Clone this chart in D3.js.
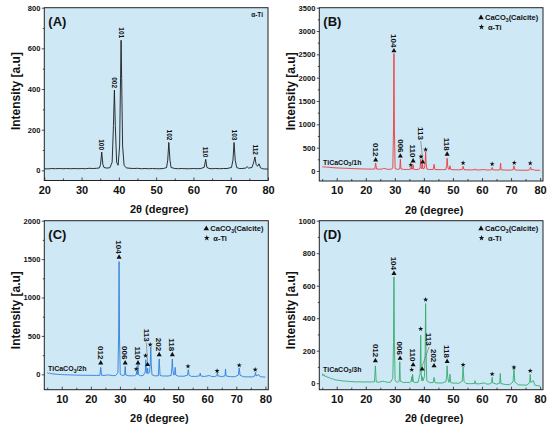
<!DOCTYPE html>
<html>
<head>
<meta charset="utf-8">
<script src="https://cdn.jsdelivr.net/npm/d3@7"></script>
<style>
  body { margin: 0; background: #fff; }
  svg, svg text { font-family: "Liberation Sans", Arial, sans-serif; }
  svg { display: block; }
</style>
</head>
<body>
<div id="chart"></div>
<script>
// ---- data: [2theta, intensity] ----
const tiA = [
  [20,8],[21,7],[22,9],[23,8],[24,9],[25,8],[26,9],[27,8],[28,9],[29,8],[30,9],[31,8],[32,10],[33,9],[34,10],
  [34.8,12],[35.1,30],[35.4,90],[35.7,30],[36.0,14],[36.8,11],[37.6,13],[38.2,40],[38.55,220],[38.8,395],
  [39.05,220],[39.4,40],[39.8,25],[40.2,120],[40.45,450],[40.6,640],[40.75,450],[41.0,120],[41.4,25],[42,12],
  [43,10],[44,9],[45,10],[46,8],[47,9],[48,8],[49,9],[50,8],[51,8],[52,9],[52.8,14],[53.1,50],[53.4,137],
  [53.7,50],[54.0,14],[55,9],[56,8],[57,9],[58,8],[59,8],[60,9],[61,8],[62,9],[62.9,15],[63.3,54],[63.6,15],
  [64.2,9],[65,8],[66,9],[67,8],[68,9],[69,9],[70.2,14],[70.6,50],[70.9,137],[71.2,50],[71.6,14],[72.3,9],
  [73,9],[74,11],[74.4,18],[74.8,11],[75.7,14],[76.1,35],[76.5,66],[76.8,30],[77.2,20],[77.6,32],[78.0,12],
  [78.5,8],[79,7],[80,6]
];
const tiB = [
  [5,92],[5.5,84],[6,88],[6.5,80],[7,82],[8,74],[9,70],[10,66],[11,63],[12,60],[13,57],[14,55],[15,52],[16,50],
  [17,47],[18,46],[19,43],[20,42],[21,40],[22,41],[23.1,40],[23.4,170],[23.7,42],[24.5,38],[25.5,40],[26.2,55],
  [26.8,48],[27.5,36],[28.5,35],[29.3,60],[29.55,900],[29.7,2520],[29.85,900],[30.1,50],[31,34],[31.7,45],
  [31.9,251],[32.1,45],[33,33],[34,32],[35,32],[35.4,40],[35.6,92],[35.8,38],[36.1,40],[36.3,129],[36.5,38],
  [37,31],[38,31],[38.7,60],[38.9,251],[39.1,60],[39.3,45],[39.5,150],[39.7,45],[40.2,60],[40.45,180],
  [40.6,414],[40.75,180],[41.0,40],[42,30],[43.2,32],[43.5,143],[43.8,32],[44.5,29],[45.5,28],[46.5,28],
  [47.6,32],[47.85,120],[48.0,272],[48.2,100],[48.5,35],[48.8,40],[49.0,110],[49.2,35],[50,26],[51,26],[52,25],
  [53.2,30],[53.5,100],[53.8,30],[54.5,24],[56,23],[57.4,25],[57.6,45],[57.8,24],[59,22],[60.8,30],[61.5,22],
  [62.5,21],[63.3,25],[63.5,75],[63.7,25],[65,20],[66.2,25],[66.4,170],[66.6,25],[68,19],[69.5,18],[70.7,25],
  [71.0,110],[71.3,25],[72.5,17],[74,16],[75.5,16],[76.4,25],[76.7,85],[77.0,25],[77.6,35],[78,17],[79,15],[80,14]
];
const tiC = [
  [5,22],[5.4,12],[5.8,18],[6.3,8],[7,6],[8,2],[9,-1],[10,-3],[11,-5],[12,-6],[13,-8],[14,-9],[15,-10],[16,-11],
  [17,-12],[18,-12],[19,-13],[20,-13],[21,-14],[22,-14],[23.1,-13],[23.4,91],[23.7,-12],[24.5,-15],[25.8,-8],
  [26.5,-10],[27.5,-16],[28.5,-16],[29.3,20],[29.55,500],[29.7,1468],[29.85,500],[30.1,0],[31,-17],[31.6,-8],
  [31.8,104],[32.0,-8],[33,-18],[34,-19],[35,-18],[35.6,-5],[35.8,45],[36.0,-2],[36.2,126],[36.4,-5],[37,-18],
  [38,-15],[38.7,30],[38.9,191],[39.1,30],[39.3,10],[39.5,80],[39.7,10],[40.2,30],[40.45,150],[40.6,356],
  [40.75,150],[41.0,-5],[42,-20],[43.2,-18],[43.5,200],[43.8,-15],[44.5,-21],[45.5,-22],[46.5,-22],[47.6,-15],
  [47.85,80],[48.0,200],[48.2,60],[48.5,-10],[48.8,0],[49.0,91],[49.2,-10],[50,-24],[51,-24],[52,-25],
  [53.2,-12],[53.5,61],[53.8,-12],[54.5,-26],[56,-27],[57.4,-20],[57.6,16],[57.8,-22],[59,-28],[60.8,-15],
  [61.5,-28],[62.5,-29],[63.3,-20],[63.5,25],[63.7,-20],[65,-30],[66.1,-20],[66.3,70],[66.5,-22],[68,-30],
  [69.5,-31],[70.7,-10],[71.0,83],[71.3,-12],[72.5,-32],[74,-33],[75.5,-33],[76.4,-20],[76.6,25],[76.8,-20],
  [77.7,-5],[78.2,-30],[79,-34],[80,-36]
];
const tiD = [
  [5,58],[5.3,46],[5.6,54],[6,40],[6.5,44],[7,33],[7.5,36],[8,27],[8.5,28],[9,23],[10,19],[11,17],[12,14],
  [13,13],[14,11],[15,10],[16,9],[17,8],[18,9],[19,7],[20,8],[21,7],[22,8],[23.0,8],[23.3,107],[23.6,8],
  [24.5,6],[25.8,12],[26.5,10],[27.5,5],[28.5,6],[29.3,30],[29.55,250],[29.7,654],[29.85,250],[30.1,15],[31,5],
  [31.5,12],[31.7,132],[31.9,12],[33,4],[34,5],[35,4],[35.6,10],[35.8,40],[36.0,10],[36.1,56],[36.4,8],[37,4],
  [38,6],[38.7,60],[38.9,295],[39.1,60],[39.3,15],[39.5,40],[39.7,15],[40.2,40],[40.45,200],[40.6,490],
  [40.75,200],[41.0,15],[42,3],[43.2,4],[43.5,35],[43.8,4],[44.5,2],[45.5,1],[46.5,2],[47.6,10],[47.85,50],
  [48.0,107],[48.2,40],[48.5,6],[48.8,10],[49.0,55],[49.2,5],[50,0],[51,1],[52,-1],[53.2,12],[53.5,101],
  [53.8,12],[54.5,-2],[56,-3],[57.4,-2],[57.6,15],[57.8,-3],[59,-4],[60.8,2],[61.5,-5],[62.5,-5],[63.3,2],
  [63.5,35],[63.7,2],[65,-6],[66.1,0],[66.3,60],[66.5,-2],[68,-8],[69.5,-9],[70.7,8],[71.0,87],[71.3,8],
  [72.5,-10],[74,-11],[75.5,-12],[76.4,5],[76.6,54],[76.8,5],[77.7,15],[78.2,-12],[79,-15],[80,-17]
];

// hkl labels of alpha-Ti in (A): [2theta, peak top, text]
const peaksA = [[35.4,90,"100"],[38.8,395,"002"],[40.6,640,"101"],[53.4,137,"102"],[63.3,54,"110"],[70.9,137,"103"],[76.5,66,"112"]];

// calcite markers: [2theta, marker height, text, (label 2theta, label height) when a leader line is used]
const calciteB = [[23.4,236,"012"],[29.7,2575,"104"],[31.9,320,"006"],[36.3,215,"110"],[39.6,193,"113",38.9,665],[48.0,360,"118"]];
const calciteC = [[23.4,148,"012"],[29.7,1525,"104"],[31.8,148,"006"],[36.2,148,"110"],[39.5,126,"113",39.1,425],[43.5,256,"202"],[48.0,256,"118"]];
const calciteD = [[23.3,138,"012"],[29.7,675,"104"],[31.8,153,"006"],[36.3,113,"110"],[39.4,87,"113",41.8,231],[43.5,107,"202"],[48.0,134,"118"]];

// alpha-Ti star markers: [2theta, height]
const starsB = [[35.5,129],[39.0,307],[40.6,460],[53.5,170],[63.5,150],[71.1,175],[76.6,165]];
const starsC = [[35.6,70],[38.8,243],[40.4,386],[53.4,104],[63.4,45],[71.0,117],[76.5,61]];
const starsD = [[35.8,83],[38.9,334],[40.6,514],[53.5,113],[63.5,56],[71.0,97],[76.6,76]];

const xTicksA = [20,30,40,50,60,70,80];
const xTicksB = [10,20,30,40,50,60,70,80];
const yTicksA = [0,200,400,600,800];
const yTicksB = [0,500,1000,1500,2000,2500,3000,3500];
const yTicksC = [0,500,1000,1500,2000];
const yTicksD = [0,200,400,600,800,1000];

const W = 550, H = 429;
const bg = "#cee8f6";
const font = '"Liberation Sans", Arial, sans-serif';

const svg = d3.select("#chart").append("svg")
  .attr("width", W)
  .attr("height", H)
  .attr("font-family", font);

const panels = [
  { id: "A", data: tiA, color: "#1b1b1b", box: [44.3, 7.7, 268, 180.5], xd: [20, 80], yd: [-50, 800],
    xt: xTicksA, yt: yTicksA, peaks: peaksA },
  { id: "B", data: tiB, color: "#ef3a3a", box: [319.3, 7.7, 543, 181], xd: [4, 81], yd: [-215, 3500],
    xt: xTicksB, yt: yTicksB, calcite: calciteB, stars: starsB, sample: ["TiCaCO", "3", "/1h"], sampleY: 130 },
  { id: "C", data: tiC, color: "#2f7fdc", box: [44.3, 220.7, 268.3, 389.7], xd: [4, 81], yd: [-200, 2000],
    xt: xTicksB, yt: yTicksC, calcite: calciteC, stars: starsC, sample: ["TiCaCO", "3", "/2h"], sampleY: 42 },
  { id: "D", data: tiD, color: "#36ad6b", box: [319.3, 220.7, 543, 389.7], xd: [4, 81], yd: [-40, 1000],
    xt: xTicksB, yt: yTicksD, calcite: calciteD, stars: starsD, sample: ["TiCaCO", "3", "/3h"], sampleY: 71 }
];

function drawPanel(p) {
  const [x0, y0, x1, y1] = p.box;
  const x = d3.scaleLinear().domain(p.xd).range([x0, x1]);
  const y = d3.scaleLinear().domain(p.yd).range([y1, y0]);
  const g = svg.append("g");

  g.append("rect")
    .attr("x", x0).attr("y", y0)
    .attr("width", x1 - x0).attr("height", y1 - y0)
    .attr("fill", bg);

  g.append("clipPath").attr("id", "clip" + p.id)
    .append("rect")
    .attr("x", x0).attr("y", y0)
    .attr("width", x1 - x0).attr("height", y1 - y0);

  g.append("path")
    .datum(p.data)
    .attr("clip-path", "url(#clip" + p.id + ")")
    .attr("fill", "none")
    .attr("stroke", p.color)
    .attr("stroke-width", 0.9)
    .attr("stroke-linejoin", "round")
    .attr("d", d3.line().x(d => x(d[0])).y(d => y(d[1])));

  // x axis, ticks pointing inward
  const xStep = p.xt[1] - p.xt[0];
  const xMinor = p.xt.map(v => v - xStep / 2).filter(v => v > p.xd[0]);
  g.append("g")
    .attr("transform", `translate(0,${y1})`)
    .call(d3.axisBottom(x).tickValues(xMinor).tickSize(-2).tickFormat(""))
    .call(a => a.select(".domain").remove());
  g.append("g")
    .attr("transform", `translate(0,${y1})`)
    .call(d3.axisBottom(x).tickValues(p.xt).tickSize(-3).tickPadding(5.5).tickFormat(d3.format("d")))
    .attr("font-family", font)
    .call(a => a.select(".domain").remove())
    .call(a => a.selectAll("text").attr("font-size", 11).attr("font-weight", "bold").attr("fill", "#111"));

  // y axis, ticks pointing outward
  const yStep = p.yt[1] - p.yt[0];
  const yMinor = p.yt.map(v => v + yStep / 2).filter(v => v < p.yd[1]);
  g.append("g")
    .attr("transform", `translate(${x0},0)`)
    .call(d3.axisLeft(y).tickValues(yMinor).tickSize(1.5).tickFormat(""))
    .call(a => a.select(".domain").remove());
  g.append("g")
    .attr("transform", `translate(${x0},0)`)
    .call(d3.axisLeft(y).tickValues(p.yt).tickSize(2.5).tickPadding(1.5).tickFormat(d3.format("d")))
    .attr("font-family", font)
    .call(a => a.select(".domain").remove())
    .call(a => a.selectAll("text").attr("font-size", 7.5).attr("font-weight", "bold").attr("fill", "#111"));

  g.selectAll(".tick line").attr("stroke", "#222").attr("stroke-width", 0.8);

  g.append("rect")
    .attr("x", x0).attr("y", y0)
    .attr("width", x1 - x0).attr("height", y1 - y0)
    .attr("fill", "none")
    .attr("stroke", "#222")
    .attr("stroke-width", 1);

  // titles
  g.append("text")
    .attr("x", (x0 + x1) / 2 + 3).attr("y", y1 + 32.5)
    .attr("text-anchor", "middle")
    .attr("font-size", 11).attr("font-weight", "bold").attr("fill", "#111")
    .text("2θ (degree)");
  g.append("text")
    .attr("transform", `translate(${x0 - 24},${(y0 + y1) / 2 + (p.id < "C" ? -3 : 5)}) rotate(-90)`)
    .attr("text-anchor", "middle")
    .attr("font-size", 12).attr("font-weight", "bold").attr("fill", "#111")
    .text("Intensity [a.u]");
  g.append("text")
    .attr("x", x0 + 4).attr("y", y0 + 18)
    .attr("font-size", 13).attr("font-weight", "bold").attr("fill", "#111")
    .text("(" + p.id + ")");

  const vlabel = (px, py, txt, size) =>
    g.append("text")
      .attr("transform", `translate(${px},${py}) rotate(90)`)
      .attr("text-anchor", "end")
      .attr("dy", "0.35em")
      .attr("font-size", size).attr("font-weight", "bold").attr("fill", "#111")
      .text(txt);

  if (p.peaks) {
    p.peaks.forEach(d => vlabel(x(d[0]), y(d[1]) - 2, d[2], 6.5));
    g.append("text")
      .attr("x", x1 - 5).attr("y", y0 + 9.5)
      .attr("text-anchor", "end")
      .attr("font-size", 6.5).attr("font-weight", "bold").attr("fill", "#111")
      .text("α-Ti");
    return;
  }

  const tri = d3.symbol().type(d3.symbolTriangle).size(11);
  const star = d3.symbol().type(d3.symbolStar).size(8);

  p.calcite.forEach(d => {
    g.append("path").attr("d", tri)
      .attr("transform", `translate(${x(d[0])},${y(d[1])})`)
      .attr("fill", "#111");
    if (d.length > 3) {
      g.append("line")
        .attr("x1", x(d[3])).attr("y1", y(d[4]) + 1)
        .attr("x2", x(d[0])).attr("y2", y(d[1]) - 3)
        .attr("stroke", "#666").attr("stroke-width", 0.6);
      vlabel(x(d[3]), y(d[4]), d[2], 8);
    } else {
      vlabel(x(d[0]), y(d[1]) - 3.5, d[2], 8);
    }
  });

  p.stars.forEach(d => {
    g.append("path").attr("d", star)
      .attr("transform", `translate(${x(d[0])},${y(d[1])})`)
      .attr("fill", "#111");
  });

  // sample name
  const s = g.append("text")
    .attr("x", x(5.3)).attr("y", y(p.sampleY))
    .attr("font-size", 7).attr("font-weight", "bold").attr("fill", "#111");
  s.append("tspan").text(p.sample[0]);
  s.append("tspan").attr("font-size", 5).attr("dy", 1.5).text(p.sample[1]);
  s.append("tspan").attr("dy", -1.5).text(p.sample[2]);

  // legend
  const ly = p.id === "B" ? y0 + 10 : y0 + 8;
  g.append("path").attr("d", d3.symbol().type(d3.symbolTriangle).size(13))
    .attr("transform", `translate(${x1 - 62},${ly})`)
    .attr("fill", "#111");
  const lt = g.append("text")
    .attr("x", x1 - 58).attr("y", ly + 2.6)
    .attr("font-size", 7.5).attr("font-weight", "bold").attr("fill", "#111");
  lt.append("tspan").text("CaCO");
  lt.append("tspan").attr("font-size", 5).attr("dy", 1.5).text("3");
  lt.append("tspan").attr("dy", -1.5).text("(Calcite)");
  g.append("path").attr("d", d3.symbol().type(d3.symbolStar).size(10))
    .attr("transform", `translate(${x1 - 61.5},${ly + 9.3})`)
    .attr("fill", "#111");
  g.append("text")
    .attr("x", x1 - 55).attr("y", ly + 11.9)
    .attr("font-size", 7.5).attr("font-weight", "bold").attr("fill", "#111")
    .text("α-Ti");
}

panels.forEach(drawPanel);
</script>
</body>
</html>
